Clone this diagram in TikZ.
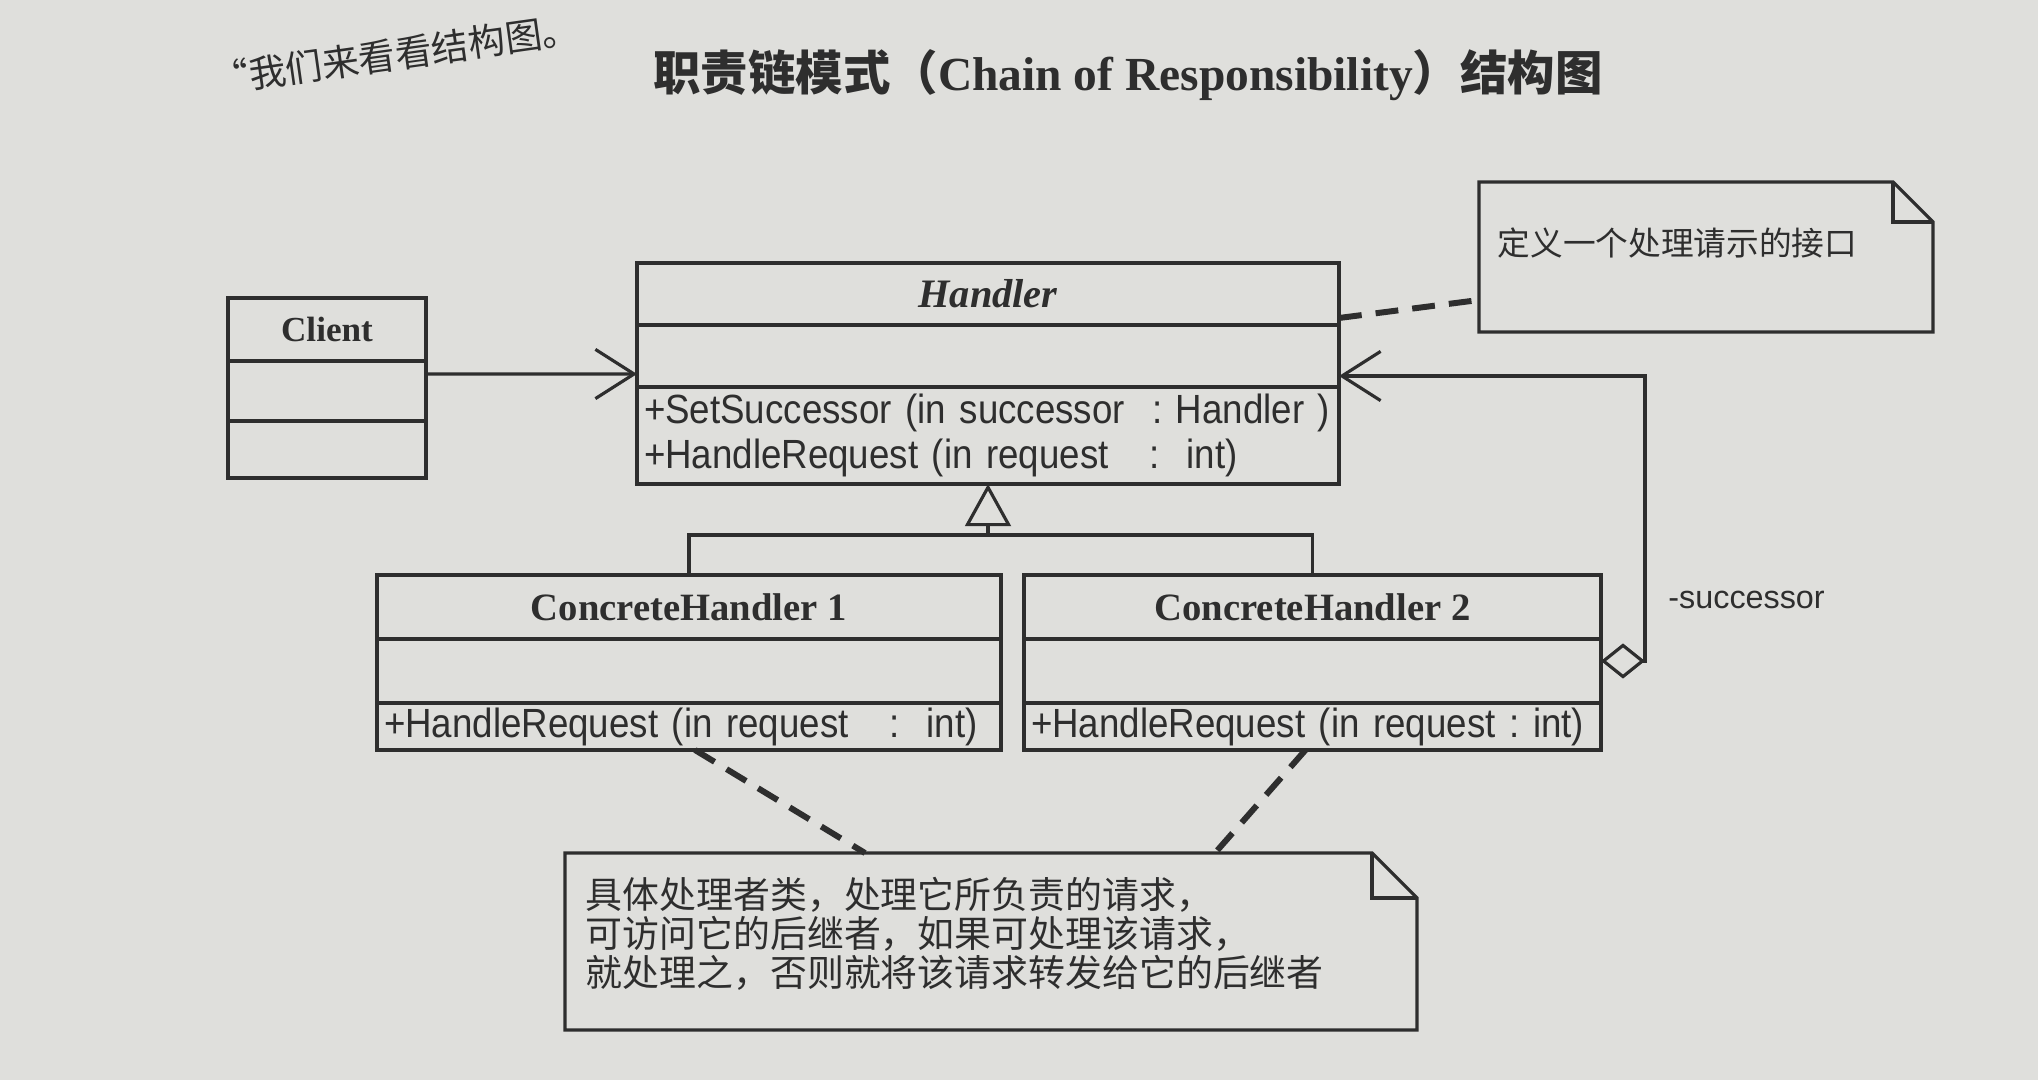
\documentclass[tikz,border=0pt]{standalone}
\usepackage{fontspec}
\setmainfont{Liberation Serif}
\setsansfont{Liberation Sans}
\newfontfamily\cjk{Noto Sans CJK SC}
\newfontfamily\opsfont[FakeStretch=0.9]{Liberation Sans}
\usetikzlibrary{arrows.meta, positioning, calc}
\definecolor{ink}{HTML}{2E2E2E}
\definecolor{paper}{HTML}{DFDFDC}

\begin{document}
\begin{tikzpicture}[
    every node/.style={text=ink},
    box/.style={draw=ink, line width=0.9pt, outer sep=0pt, inner sep=0pt},
    cname/.style={box, font=\bfseries\fontsize{11}{13}\selectfont},
    ops/.style={box, font=\opsfont\fontsize{11.6}{13}\selectfont, align=left, inner xsep=2pt},
    link/.style={draw=ink, line width=0.9pt},
    noteline/.style={draw=ink, line width=1.7pt, dash pattern=on 6.5pt off 4pt},
    sheet/.style={outer sep=0pt, inner sep=0pt, anchor=north west},
    notetext/.style={font=\cjk\fontsize{10.5}{11}\selectfont, align=left, inner sep=0pt},
]
\fill[paper] (0,0) rectangle (20.38,-10.80);
\useasboundingbox (0,0) rectangle (20.38,-10.80);

% a note sheet with a folded corner: node #1, fold #2
\newcommand{\notesheet}[2]{%
  \draw[link] (#1.north west) -- ([xshift=-#2]#1.north east)
      -- ([yshift=-#2]#1.north east) -- (#1.south east) -- (#1.south west) -- cycle;
  \draw[link] ([xshift=-#2]#1.north east) |- ([yshift=-#2]#1.north east);}

\node[notetext, font=\cjk\fontsize{10.5}{12}\selectfont, rotate=8, anchor=west] (page-line)
     at (2.12,-0.80) {“我们来看看结构图。};

\node[font=\bfseries\fontsize{13.5}{15}\selectfont] (title) at (11.28,-0.75)
     {{\cjk\bfseries 职责链模式（}Chain of Responsibility{\cjk\bfseries ）结构图}};

% Client
\node[cname, font=\bfseries\fontsize{10}{12}\selectfont, minimum width=1.98cm,
      minimum height=0.63cm, anchor=north west] (client) at (2.28,-2.98) {Client};
\node[box, minimum width=1.98cm, minimum height=0.60cm, below=0pt of client] (client-attr) {};
\node[box, minimum width=1.98cm, minimum height=0.57cm, below=0pt of client-attr] (client-ops) {};

% Handler
\node[cname, font=\bfseries\itshape\fontsize{11.5}{13}\selectfont, minimum width=7.02cm,
      minimum height=0.62cm, anchor=north west] (handler) at (6.37,-2.63) {Handler};
\node[box, minimum width=7.02cm, minimum height=0.62cm, below=0pt of handler] (handler-attr) {};
\node[ops, text width=6.88cm, minimum width=7.02cm, minimum height=0.97cm,
      below=0pt of handler-attr] (handler-ops)
     {+SetSuccessor (in successor~~:~Handler~)\\+HandleRequest (in request~~~:~~int)};

% the two concrete handlers
\node[cname, minimum width=6.24cm, minimum height=0.64cm, anchor=north west] (ch1)
     at (3.77,-5.75) {ConcreteHandler 1};
\node[box, minimum width=6.24cm, minimum height=0.64cm, below=0pt of ch1] (ch1-attr) {};
\node[ops, text width=6.10cm, minimum width=6.24cm, minimum height=0.47cm,
      below=0pt of ch1-attr] (ch1-ops) {\mbox{+HandleRequest (in request~~~:~~int)}};

\node[cname, minimum width=5.77cm, minimum height=0.64cm, anchor=north west] (ch2)
     at (10.24,-5.75) {ConcreteHandler 2};
\node[box, minimum width=5.77cm, minimum height=0.64cm, below=0pt of ch2] (ch2-attr) {};
\node[ops, text width=5.63cm, minimum width=5.77cm, minimum height=0.47cm,
      below=0pt of ch2-attr] (ch2-ops) {\mbox{+HandleRequest (in request~:~int)}};

% inheritance
\coordinate (split) at ($(handler-ops.south)+(0,-0.51)$);
\draw[link] (ch1.north) |- (split) -| (ch2.north);
\draw[link, -{Triangle[open, length=12pt, width=13pt]}] (split) -- (handler-ops.south);

% association and aggregation
\draw[link, -{Straight Barb[length=11pt, width=14pt]}]
     ([yshift=0.17cm]client-attr.east) -- ([yshift=-0.18cm]handler-attr.west);
\draw[link, {Diamond[open, length=12.5pt, width=10pt]}-{Straight Barb[length=11pt, width=14pt]}]
     ([yshift=0.10cm]ch2-attr.east) -- ++(0.44,0) |- ([yshift=-0.20cm]handler-attr.east);
\node[font=\sffamily\fontsize{9.2}{11}\selectfont, anchor=west] (succ-role) at (16.56,-6.00) {-successor};

% notes
\node[sheet, minimum width=4.54cm, minimum height=1.50cm] (note-iface) at (14.79,-1.82) {};
\notesheet{note-iface}{0.40cm}
\node[notetext, font=\cjk\fontsize{9.3}{11}\selectfont, anchor=west] (iface-text)
     at ($(note-iface.north west)+(0.18,-0.61)$) {定义一个处理请示的接口};

\node[sheet, minimum width=8.52cm, minimum height=1.77cm] (note-chain) at (5.65,-8.53) {};
\notesheet{note-chain}{0.45cm}
\node[notetext, anchor=north west] (chain-text) at ($(note-chain.north west)+(0.20,-0.24)$)
     {具体处理者类，处理它所负责的请求，\\可访问它的后继者，如果可处理该请求，\\就处理之，否则就将该请求转发给它的后继者};

\draw[noteline] ([yshift=-0.24cm]handler.east) -- ([yshift=-0.43cm]note-iface.west);
\draw[noteline] ([xshift=0.06cm]ch1-ops.south) -- ([xshift=-1.26cm]note-chain.north);
\draw[noteline] ([xshift=-0.07cm]ch2-ops.south) -- ([xshift=2.24cm]note-chain.north);
\end{tikzpicture}
\end{document}
